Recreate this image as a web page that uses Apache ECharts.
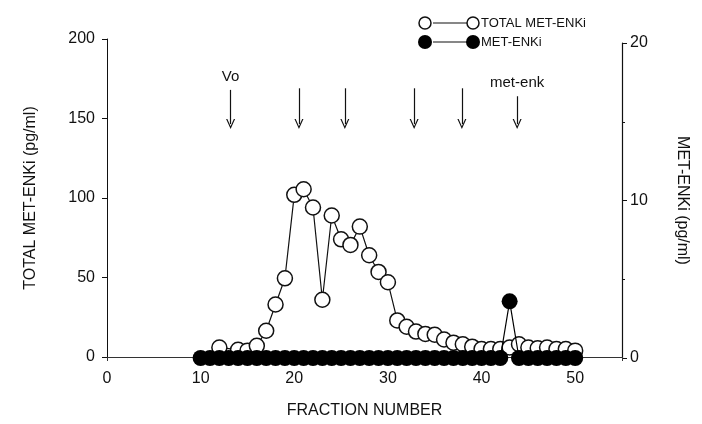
<!DOCTYPE html>
<html>
<head>
<meta charset="utf-8">
<script src="https://cdn.jsdelivr.net/npm/echarts@6/dist/echarts.min.js"></script>
<style>
  html, body { margin: 0; padding: 0; background: #fff; }
  #chart { width: 702px; height: 424px; }
</style>
</head>
<body>
<div id="chart"></div>
<script>
// fraction numbers and values
const totalFractions = [12, 14, 15, 16, 17, 18, 19, 20, 21, 22, 23, 24, 25, 26, 27, 28, 29, 30, 31, 32,
    33, 34, 35, 36, 37, 38, 39, 40, 41, 42, 43, 44, 45, 46, 47, 48, 49, 50];
const totalMetEnk = [6, 4.5, 4, 7, 16.5, 33, 49.5, 102, 105.5, 94, 36, 89, 74, 70.5, 82, 64, 53.5, 47, 23, 19,
    16, 14.5, 14, 11, 9, 8, 6.5, 5, 5, 5, 6, 8, 6, 5.5, 6, 5, 5, 4];
const metFractions = [10, 11, 12, 13, 14, 15, 16, 17, 18, 19, 20, 21, 22, 23, 24, 25, 26, 27, 28, 29, 30,
    31, 32, 33, 34, 35, 36, 37, 38, 39, 40, 41, 42, 43, 44, 45, 46, 47, 48, 49, 50];
const metEnk = [0, 0, 0, 0, 0, 0, 0, 0, 0, 0, 0, 0, 0, 0, 0, 0, 0, 0, 0, 0, 0,
    0, 0, 0, 0, 0, 0, 0, 0, 0, 0, 0, 0, 3.6, 0, 0, 0, 0, 0, 0, 0];

// elution markers (arrows)
const arrowFractions = [13.2, 20.5, 25.4, 32.8, 37.9, 43.8];
const arrowTops = [168, 169, 169, 169, 169, 164];
const arrowTip = 146.5;
const arrowLabels = ['Vo', '', '', '', '', 'met-enk'];

const seriesNames = ['TOTAL MET-ENKi', 'MET-ENKi'];

const font = 'Liberation Sans, Arial, sans-serif';
const ink = '#111';
// open "V" arrow head, tip pointing up before rotation
const arrowHead = 'path://M5,0 L10,9 L8.6,9 L5,2.6 L1.4,9 L0,9 Z';

let chart = echarts.init(document.getElementById('chart'), null, {renderer: 'canvas'});

let option = {
    animation: false,
    backgroundColor: '#fff',
    textStyle: {fontFamily: font, color: ink},
    grid: [
        {left: 107, right: 80, top: 39, bottom: 67},
        {left: 107, right: 80, top: 43, bottom: 66}
    ],
    xAxis: [
        {
            gridIndex: 0,
            type: 'value',
            min: 0,
            max: 55,
            interval: 10,
            name: 'FRACTION NUMBER',
            nameLocation: 'middle',
            nameGap: 46,
            nameTextStyle: {fontSize: 16, color: ink, fontFamily: font},
            axisLine: {onZero: false, lineStyle: {color: '#333', width: 1}},
            axisTick: {show: true, length: 4, lineStyle: {color: '#333'}},
            axisLabel: {
                fontSize: 16, color: ink, margin: 14, fontFamily: font,
                formatter: (v) => (v % 10 === 0 ? String(v) : '')
            },
            splitLine: {show: false}
        },
        {
            gridIndex: 1,
            type: 'value',
            min: 0,
            max: 55,
            show: false
        }
    ],
    yAxis: [
        {
            gridIndex: 0,
            type: 'value',
            position: 'left',
            min: 0,
            max: 200,
            interval: 50,
            name: 'TOTAL MET-ENKi (pg/ml)',
            nameLocation: 'middle',
            nameGap: 68,
            nameRotate: 90,
            nameTextStyle: {fontSize: 16, color: ink, fontFamily: font},
            axisLine: {show: true, onZero: false, lineStyle: {color: ink, width: 1}},
            axisTick: {show: true, length: 5, lineStyle: {color: ink}},
            axisLabel: {fontSize: 16, color: ink, margin: 12, fontFamily: font},
            splitLine: {show: false}
        },
        {
            gridIndex: 1,
            type: 'value',
            position: 'right',
            min: 0,
            max: 20,
            interval: 10,
            name: 'MET-ENKi (pg/ml)',
            nameLocation: 'middle',
            nameGap: 52,
            nameRotate: -90,
            nameTextStyle: {fontSize: 16, color: ink, fontFamily: font},
            axisLine: {show: true, onZero: false, lineStyle: {color: ink, width: 1.2}},
            axisTick: {show: true, length: 5, lineStyle: {color: ink}},
            minorTick: {show: true, splitNumber: 2, length: 3, lineStyle: {color: ink}},
            axisLabel: {fontSize: 16, color: ink, margin: 8, fontFamily: font},
            splitLine: {show: false}
        }
    ],
    graphic: [
        // legend, drawn by hand to get the O—O style
        {type: 'line', shape: {x1: 433, y1: 23, x2: 467, y2: 23}, style: {stroke: ink, lineWidth: 1.2}},
        {type: 'circle', shape: {cx: 425, cy: 23, r: 6}, style: {fill: '#fff', stroke: ink, lineWidth: 1.5}},
        {type: 'circle', shape: {cx: 473, cy: 23, r: 6}, style: {fill: '#fff', stroke: ink, lineWidth: 1.5}},
        {type: 'text', x: 481, y: 23, style: {text: seriesNames[0], fill: ink, font: '13px ' + font, verticalAlign: 'middle'}},
        {type: 'line', shape: {x1: 433, y1: 42, x2: 467, y2: 42}, style: {stroke: ink, lineWidth: 1.2}},
        {type: 'circle', shape: {cx: 425, cy: 42, r: 7}, style: {fill: '#000'}},
        {type: 'circle', shape: {cx: 473, cy: 42, r: 7}, style: {fill: '#000'}},
        {type: 'text', x: 481, y: 42, style: {text: seriesNames[1], fill: ink, font: '13px ' + font, verticalAlign: 'middle'}}
    ],
    series: [
        {
            name: seriesNames[0],
            type: 'line',
            xAxisIndex: 0,
            yAxisIndex: 0,
            data: totalFractions.map((f, i) => [f, totalMetEnk[i]]),
            symbol: 'circle',
            symbolSize: 15,
            showSymbol: true,
            showAllSymbol: true,
            itemStyle: {color: '#fff', borderColor: ink, borderWidth: 1.5},
            lineStyle: {color: ink, width: 1.2},
            z: 2,
            markLine: {
                silent: true,
                symbol: ['none', arrowHead],
                symbolSize: [9, 10],
                lineStyle: {color: ink, type: 'solid', width: 1.2},
                label: {show: false},
                data: arrowFractions.map((f, i) => [
                    {
                        coord: [f, arrowTops[i]],
                        label: {
                            show: arrowLabels[i] !== '',
                            position: 'start',
                            formatter: arrowLabels[i],
                            fontSize: 15,
                            color: ink,
                            fontFamily: font,
                            distance: 6
                        }
                    },
                    {coord: [f, arrowTip]}
                ])
            }
        },
        {
            name: seriesNames[1],
            type: 'line',
            xAxisIndex: 1,
            yAxisIndex: 1,
            data: metFractions.map((f, i) => [f, metEnk[i]]),
            symbol: 'circle',
            symbolSize: 16,
            showSymbol: true,
            showAllSymbol: true,
            itemStyle: {color: '#000'},
            lineStyle: {color: '#000', width: 1.2},
            z: 3
        }
    ]
};

chart.setOption(option);
</script>
</body>
</html>
